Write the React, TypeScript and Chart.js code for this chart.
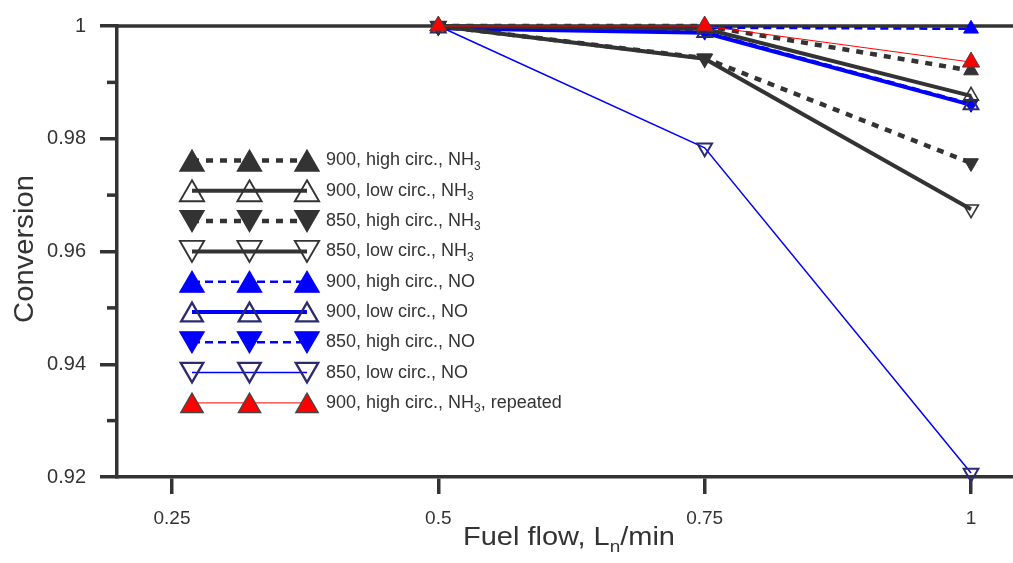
import React, { useEffect, useRef } from 'react';
import { Chart, registerables } from 'chart.js';

Chart.register(...registerables);

// ---------- data ----------
const xValues = [0.5, 0.75, 1];

const s900HighNH3 = [1.0, 1.0, 0.9921];
const s900LowNH3 = [1.0, 0.9995, 0.9876];
const s850HighNH3 = [1.0, 0.9943, 0.9757];
const s850LowNH3 = [1.0, 0.9942, 0.9675];
const s900HighNO = [0.9999, 0.9997, 0.9995];
const s900LowNO = [0.9996, 0.9988, 0.986];
const s850HighNO = [0.9998, 0.999, 0.9862];
const s850LowNO = [1.0, 0.9784, 0.9207];
const s900HighNH3Rep = [1.0, 1.0, 0.9936];

// label parts: [main text, subscript, trailing text]
const seriesLabels: [string, string, string][] = [
  ['900, high circ., NH', '3', ''],
  ['900, low circ., NH', '3', ''],
  ['850, high circ., NH', '3', ''],
  ['850, low circ., NH', '3', ''],
  ['900, high circ., NO', '', ''],
  ['900, low circ., NO', '', ''],
  ['850, high circ., NO', '', ''],
  ['850, low circ., NO', '', ''],
  ['900, high circ., NH', '3', ', repeated'],
];

const xTickValues = [0.25, 0.5, 0.75, 1];
const xTickLabels = ['0.25', '0.5', '0.75', '1'];
const yTickValues = [0.92, 0.94, 0.96, 0.98, 1];
const yTickLabels = ['0.92', '0.94', '0.96', '0.98', '1'];
const yMinorTicks = [0.93, 0.95, 0.97, 0.99];

const xTitleParts = ['Fuel flow, L', 'n', '/min'];
const yTitle = 'Conversion';

// ---------- styles ----------
const DARK = '#333333';
const BLUE = '#0000ff';
const NAVY = '#2b2b6e';
const RED = '#ff0000';
const CLEAR = 'rgba(0,0,0,0)';
const FONT = "'Liberation Sans', Arial, sans-serif";
const AXIS_W = 3.5;

type Style = {
  line: string;
  lw: number;
  dash: number[];
  down: boolean;
  fill: string;
  stroke: string;
  pbw: number;
  r: number;
  lr: number;
};

const styles: Style[] = [
  { line: DARK, lw: 4.5, dash: [7, 7], down: false, fill: DARK, stroke: DARK, pbw: 1, r: 8.5, lr: 14 },
  { line: DARK, lw: 4, dash: [], down: false, fill: CLEAR, stroke: DARK, pbw: 1.6, r: 8.5, lr: 14 },
  { line: DARK, lw: 4.5, dash: [7, 7], down: true, fill: DARK, stroke: DARK, pbw: 1, r: 8.5, lr: 14 },
  { line: DARK, lw: 4, dash: [], down: true, fill: CLEAR, stroke: DARK, pbw: 1.6, r: 8.5, lr: 14 },
  { line: BLUE, lw: 2.5, dash: [8, 5], down: false, fill: BLUE, stroke: BLUE, pbw: 1, r: 8.5, lr: 14 },
  { line: BLUE, lw: 4, dash: [], down: false, fill: CLEAR, stroke: NAVY, pbw: 2, r: 8.5, lr: 12.5 },
  { line: BLUE, lw: 2.5, dash: [8, 5], down: true, fill: BLUE, stroke: BLUE, pbw: 1, r: 8.5, lr: 14 },
  { line: BLUE, lw: 1.5, dash: [], down: true, fill: CLEAR, stroke: NAVY, pbw: 2, r: 8.5, lr: 13 },
  { line: RED, lw: 1, dash: [], down: false, fill: RED, stroke: '#444444', pbw: 1, r: 10, lr: 13 },
];

const seriesValues = [
  s900HighNH3,
  s900LowNH3,
  s850HighNH3,
  s850LowNH3,
  s900HighNO,
  s900LowNO,
  s850HighNO,
  s850LowNO,
  s900HighNH3Rep,
];

const legendRowTop = 160.5;
const legendRowStep = 30.3;
const legendMarkerX = [192, 249.5, 307];
const legendTextX = 326;

function triangle(ctx: CanvasRenderingContext2D, cx: number, cy: number, r: number, down: boolean) {
  const rot = down ? Math.PI : 0;
  ctx.beginPath();
  for (let k = 0; k < 3; k++) {
    const a = rot + (k * 2 * Math.PI) / 3;
    const px = cx + Math.sin(a) * r;
    const py = cy - Math.cos(a) * r;
    if (k === 0) ctx.moveTo(px, py);
    else ctx.lineTo(px, py);
  }
  ctx.closePath();
}

function drawRich(
  ctx: CanvasRenderingContext2D,
  parts: string[],
  x: number,
  y: number,
  size: number,
  subSize: number,
  subDy: number
) {
  let cx = x;
  parts.forEach((p, i) => {
    if (!p) return;
    const isSub = i === 1;
    ctx.font = `${isSub ? subSize : size}px ${FONT}`;
    ctx.fillText(p, cx, y + (isSub ? subDy : 0));
    cx += ctx.measureText(p).width;
  });
  return cx - x;
}

function richWidth(ctx: CanvasRenderingContext2D, parts: string[], size: number, subSize: number) {
  let w = 0;
  parts.forEach((p, i) => {
    if (!p) return;
    ctx.font = `${i === 1 ? subSize : size}px ${FONT}`;
    w += ctx.measureText(p).width;
  });
  return w;
}

const decorPlugin = {
  id: 'decor',
  beforeDatasetsDraw(chart: any) {
    const ctx: CanvasRenderingContext2D = chart.ctx;
    const { left, right, top } = chart.chartArea;
    const ys = chart.scales.y;
    ctx.save();
    ctx.strokeStyle = DARK;
    ctx.lineWidth = AXIS_W;
    ctx.beginPath();
    ctx.moveTo(left, top);
    ctx.lineTo(right, top);
    ctx.stroke();
    yMinorTicks.forEach((v) => {
      const py = ys.getPixelForValue(v);
      ctx.beginPath();
      ctx.moveTo(left - 10, py);
      ctx.lineTo(left, py);
      ctx.stroke();
    });
    ctx.restore();
  },
  afterDraw(chart: any) {
    const ctx: CanvasRenderingContext2D = chart.ctx;
    ctx.save();
    // legend
    chart.data.datasets.forEach((ds: any, i: number) => {
      const st = styles[i];
      const rowY = legendRowTop + i * legendRowStep;
      ctx.save();
      ctx.strokeStyle = st.line;
      ctx.lineWidth = st.lw;
      ctx.setLineDash(st.dash);
      ctx.beginPath();
      ctx.moveTo(legendMarkerX[0], rowY);
      ctx.lineTo(legendMarkerX[2], rowY);
      ctx.stroke();
      ctx.restore();
      legendMarkerX.forEach((mx) => {
        const cy = rowY + (st.down ? -st.lr / 4 : st.lr / 4);
        triangle(ctx, mx, cy, st.lr, st.down);
        if (st.fill !== CLEAR) {
          ctx.fillStyle = st.fill;
          ctx.fill();
        }
        ctx.lineWidth = st.pbw + 0.3;
        ctx.strokeStyle = st.stroke;
        ctx.setLineDash([]);
        ctx.stroke();
      });
      ctx.fillStyle = DARK;
      ctx.textBaseline = 'middle';
      ctx.textAlign = 'left';
      drawRich(ctx, seriesLabels[i], legendTextX, rowY, 18, 12, 6);
    });

    // x title
    ctx.fillStyle = DARK;
    ctx.textBaseline = 'alphabetic';
    ctx.textAlign = 'left';
    const xw = richWidth(ctx, xTitleParts, 26, 17);
    const sx = 212 / xw;
    ctx.save();
    ctx.translate(463, 545);
    ctx.scale(sx, 1);
    drawRich(ctx, xTitleParts, 0, 0, 26, 17, 7);
    ctx.restore();

    // y title
    ctx.save();
    ctx.font = `28px ${FONT}`;
    const yw = ctx.measureText(yTitle).width;
    ctx.translate(33, 249);
    ctx.rotate(-Math.PI / 2);
    ctx.scale(148 / yw, 1);
    ctx.textAlign = 'center';
    ctx.textBaseline = 'alphabetic';
    ctx.fillText(yTitle, 0, 0);
    ctx.restore();

    ctx.restore();
  },
};

export default function App() {
  const ref = useRef<HTMLCanvasElement>(null);
  useEffect(() => {
    const datasets = seriesValues.map((vals, i) => {
      const st = styles[i];
      return {
        label: seriesLabels[i].join(''),
        data: xValues.map((x, j) => ({ x, y: vals[j] })),
        borderColor: st.line,
        borderWidth: st.lw,
        borderDash: st.dash,
        pointStyle: 'triangle',
        rotation: st.down ? 180 : 0,
        pointRadius: st.r,
        pointBackgroundColor: st.fill,
        pointBorderColor: st.stroke,
        pointBorderWidth: st.pbw,
        fill: false,
        tension: 0,
        clip: false,
        order: i === 8 ? -1 : i,
      };
    });

    const chart = new Chart(ref.current as HTMLCanvasElement, {
      type: 'line',
      data: { datasets: datasets as any },
      options: {
        animation: false,
        responsive: false,
        events: [],
        layout: { autoPadding: false, padding: { top: 23, left: 0, right: 0, bottom: 0 } },
        plugins: {
          legend: { display: false },
          tooltip: { enabled: false },
          title: { display: false },
        },
        scales: {
          x: {
            type: 'linear',
            min: 0.1984,
            max: 1.0394,
            afterFit: (s: any) => {
              s.height = 86;
            },
            afterBuildTicks: (s: any) => {
              s.ticks = xTickValues.map((v) => ({ value: v }));
            },
            ticks: {
              autoSkip: false,
              maxRotation: 0,
              padding: 13,
              color: DARK,
              font: { family: FONT, size: 19 },
              callback: (_v: any, idx: number) => xTickLabels[idx],
            },
            grid: {
              drawOnChartArea: false,
              drawTicks: true,
              tickLength: 17,
              color: DARK,
              lineWidth: AXIS_W,
            },
            border: { display: true, color: DARK, width: AXIS_W },
          },
          y: {
            type: 'linear',
            min: 0.92,
            max: 1.0,
            afterFit: (s: any) => {
              s.width = 117;
            },
            afterBuildTicks: (s: any) => {
              s.ticks = yTickValues.map((v) => ({ value: v }));
            },
            ticks: {
              autoSkip: false,
              padding: 14,
              color: DARK,
              font: { family: FONT, size: 20 },
              callback: (_v: any, idx: number) => yTickLabels[idx],
            },
            grid: {
              drawOnChartArea: false,
              drawTicks: true,
              tickLength: 17,
              color: DARK,
              lineWidth: AXIS_W,
            },
            border: { display: true, color: DARK, width: AXIS_W },
          },
        },
      },
      plugins: [decorPlugin],
    });
    return () => chart.destroy();
  }, []);

  return (
    <div style={{ position: 'fixed', left: 0, top: 0, width: 1013, height: 563, background: '#ffffff' }}>
      <canvas ref={ref} width={1013} height={563} style={{ display: 'block' }} />
    </div>
  );
}
